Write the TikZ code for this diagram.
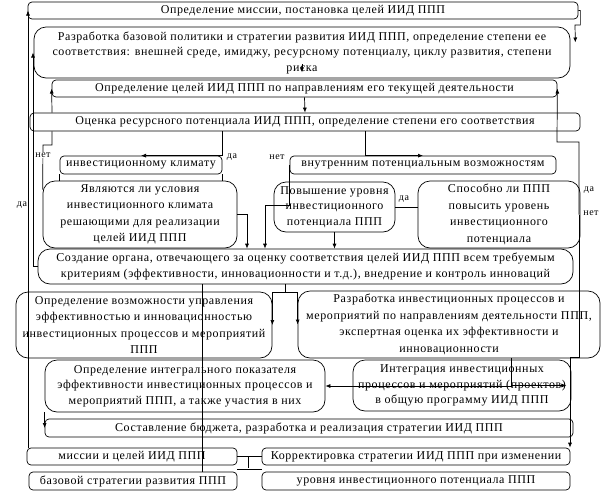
\documentclass[tikz,border=0pt]{standalone}
\usepackage{fontspec}
\setmainfont{Liberation Serif}[LetterSpace=5]
\usetikzlibrary{arrows.meta}

\tikzset{
  box/.style={draw, rounded corners=4pt, align=center, inner sep=1pt,
    font=\fontsize{12}{15.5}\selectfont},
  bigbox/.style={box, rounded corners=12pt},
  tallbox/.style={bigbox, font=\fontsize{12}{16.5}\selectfont},
  arr/.style={-{Latex[length=5pt,width=4pt]}},
  lbl/.style={font=\fontsize{10}{12}\selectfont, fill=white, inner sep=0.5pt},
}

\begin{document}
\begin{tikzpicture}[x=1pt, y=-1pt, line width=0.7pt]
    \fill[white] (0,0) rectangle (606,491);
    \useasboundingbox (0,0) rectangle (606,491);

    % mission, policy, goals, resources
    \node[box, minimum width=550pt, minimum height=17pt] (A) at (303,10.5) {Определение миссии, постановка целей ИИД ППП};
    \node[bigbox, minimum width=536pt, minimum height=51pt] (B) at (302,52.5) {Разработка базовой политики и стратегии развития ИИД ППП, определение степени ее\\соответствия: внешней среде, имиджу, ресурсному потенциалу, циклу развития, степени\\риска};
    \node[box, minimum width=505pt, minimum height=17pt] (C) at (304.5,88.5) {Определение целей ИИД ППП по направлениям его текущей деятельности};
    \node[box, minimum width=550pt, minimum height=18pt] (D) at (305,122) {Оценка ресурсного потенциала ИИД ППП, определение степени его соответствия};

    % two directions of the check
    \node[box, minimum width=162pt, minimum height=18pt] (E) at (141,165) {инвестиционному климату};
    \node[box, minimum width=266pt, minimum height=18pt] (F) at (423,165) {внутренним потенциальным возможностям};
    \node[tallbox, minimum width=194pt, minimum height=67pt] (G) at (140,214.5) {Являются ли условия\\инвестиционного климата\\решающими для реализации\\целей ИИД ППП};
    \node[bigbox, minimum width=121pt, minimum height=50pt] (H) at (334.5,207) {Повышение уровня\\инвестиционного\\потенциала ППП};
    \node[tallbox, minimum width=162pt, minimum height=67pt] (I) at (499,214.5) {Способно ли ППП\\повысить уровень\\инвестиционного\\потенциала};

    % organ, processes, integration
    \node[bigbox, minimum width=535pt, minimum height=35pt] (J) at (305.5,266.5) {Создание органа, отвечающего за оценку соответствия целей ИИД ППП всем требуемым\\критериям (эффективности, инновационности и т.д.), внедрение и контроль инноваций};
    \node[tallbox, minimum width=256pt, minimum height=66pt] (K) at (144,325) {Определение возможности управления\\эффективностью и инновационностью\\инвестиционных процессов и мероприятий\\ППП};
    \node[tallbox, minimum width=302pt, minimum height=67pt] (L) at (449,324.5) {Разработка инвестиционных процессов и\\мероприятий по направлениям деятельности ППП,\\экспертная оценка их эффективности и\\инновационности};
    \node[bigbox, minimum width=280pt, minimum height=52pt] (M) at (185,386) {Определение интегрального показателя\\эффективности инвестиционных процессов и\\мероприятий ППП, а также участия в них};
    \node[bigbox, minimum width=218pt, minimum height=51pt] (N) at (462,385.5) {Интеграция инвестиционных\\процессов и мероприятий (проектов)\\в общую программу ИИД ППП};
    \node[box, minimum width=528pt, minimum height=18pt] (O) at (309,428) {Составление бюджета, разработка и реализация стратегии ИИД ППП};

    % correction
    \node[box, minimum width=210pt, minimum height=17pt] (P) at (132,456.5) {миссии и целей ИИД ППП};
    \node[box, minimum width=208pt, minimum height=18pt] (Q) at (133,481) {базовой стратегии развития ППП};
    \node[box, minimum width=308pt, minimum height=17pt] (R) at (416,456.5) {Корректировка стратегии ИИД ППП при изменении};
    \node[box, minimum width=308pt, minimum height=18pt] (S) at (416,481) {уровня инвестиционного потенциала ППП};

    % feedback on the left
    \draw[arr] (28,0 |- P.north) -- (28,0 |- A.west);
    \draw[arr] (J.west) -| (33,0 |- B.west);
    \draw[arr] (52,0 |- D.north) -- (C.west);
    \draw (52,0 |- D.south) |- (43,145) -- ([yshift=-9pt]G.north west);

    % top chain
    \draw[arr] (A.east) -- ++(2,0) |- (575,25) -- ([xshift=5pt,yshift=10pt]B.east);
    \draw[arr] ([yshift=14pt]B.south) -- ([yshift=6pt]B.south);
    \draw[arr] (C.south) -- (D.north);

    % checks
    \draw[arr] (222,0 |- D.south) |- (E.north);
    \draw[arr] (365,0 |- D.south) |- (F.north);
    \draw (E.south west) -- (E.south west |- G.north);
    \draw (E.south east) -- (E.south east |- G.north);
    \draw[arr] (F.west) |- (265,205) -- (265,0 |- J.north);
    \draw[arr] (G.east) -| (247,0 |- J.north);
    \draw[arr] (H.south) -- (H.south |- J.north);
    \draw (H.east) -- (H.east -| I.west);
    \draw[arr] (579,0 |- I.east) |- (557,142) -- (C.east);
    \draw[arr] (579,0 |- I.east) |- (570,357) -- (570,0 |- R.north);

    % lower part
    \draw (285,0 |- J.south) -- (285,292) coordinate (jk);
    \draw[arr] (jk) -| (K.east);
    \draw[arr] (jk) -| (L.west);
    \draw (202,0 |- J.south) -- (202,0 |- Q.north);
    \draw[arr] (511,0 |- L.south) |- (M.east);
    \draw[arr] (511,0 |- N.east) -- ([xshift=-5pt]N.east);
    \draw[arr] (M.south west) -- (O.west);
    \draw (P.east) -- (R.west);
    \draw ([yshift=-3.5pt]P.south east) -- ([yshift=-3.5pt]R.south west);
    \draw (248,0 |- P.east) -- (248,468);

    % answers
    \node[lbl] (no1) at (43,155) {нет};
    \node[lbl] (yes1) at (232,157) {да};
    \node[lbl] (no2) at (277,157) {нет};
    \node[lbl] (yes2) at (404,199) {да};
    \node[lbl] (yes3) at (589,190) {да};
    \node[lbl] (no3) at (591,213) {нет};
    \node[lbl] (yes4) at (22,205) {да};
\end{tikzpicture}
\end{document}
